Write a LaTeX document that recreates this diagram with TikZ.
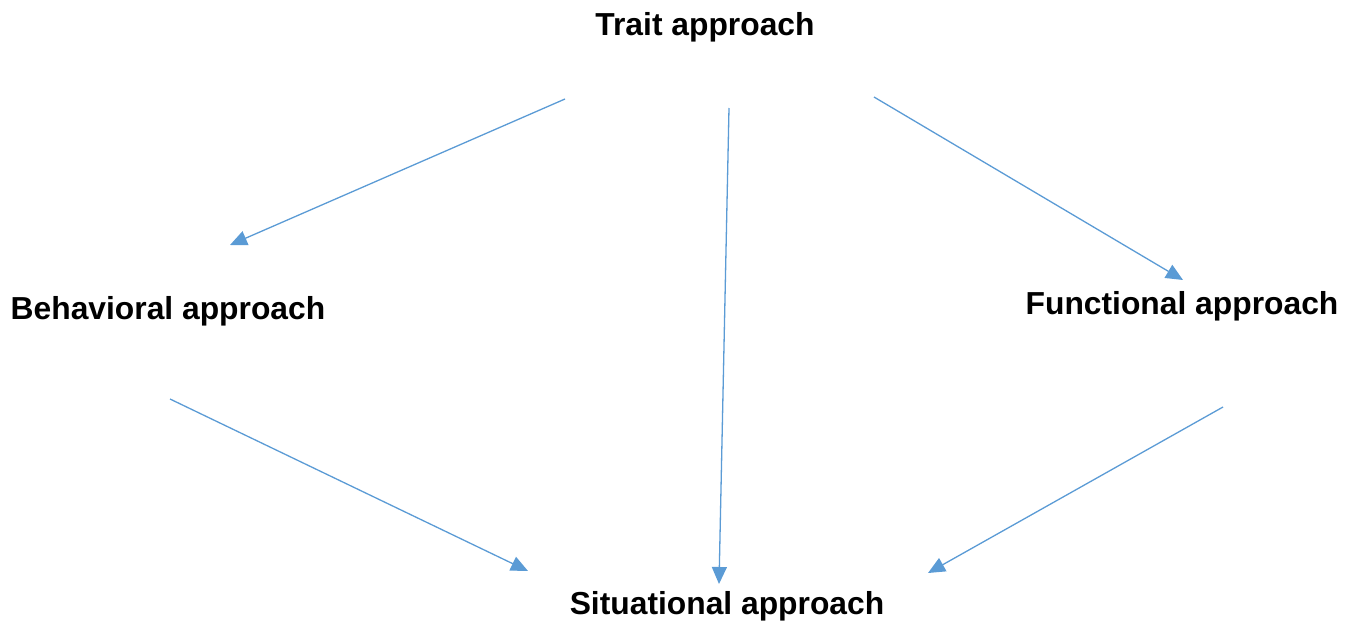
\documentclass[tikz,border=0pt]{standalone}
\usepackage{fontspec}
\setmainfont{Liberation Sans}
\usetikzlibrary{arrows.meta}
\definecolor{arr}{HTML}{5B9BD5}
\begin{document}
\begin{tikzpicture}[x=0.5pt,y=-0.5pt,
  lbl/.style={font=\fontsize{15.9}{18}\selectfont\bfseries, inner sep=0pt, anchor=center},
  conn/.style={draw=arr, line width=0.65pt, -{Triangle[length=8.5pt,width=7.5pt]}}]
\useasboundingbox (0,0) rectangle (1356,622);
\node[lbl] (trait) at (705,27) {Trait approach};
\node[lbl] (beh) at (168,311) {Behavioral approach};
\node[lbl] (fun) at (1182,306) {Functional approach};
\node[lbl] (sit) at (727,606) {Situational approach};
\coordinate (t1) at (565,99);
\coordinate (t2) at (729,108);
\coordinate (t3) at (874,97);
\coordinate (b1) at (230,245);
\coordinate (f1) at (1183,280);
\coordinate (b2) at (170,399);
\coordinate (f2) at (1223,407);
\coordinate (s1) at (528,571);
\coordinate (s2) at (719,584);
\coordinate (s3) at (928,573);
\draw[conn] (t1) -- (b1);
\draw[conn] (t2) -- (s2);
\draw[conn] (t3) -- (f1);
\draw[conn] (b2) -- (s1);
\draw[conn] (f2) -- (s3);
\end{tikzpicture}
\end{document}
